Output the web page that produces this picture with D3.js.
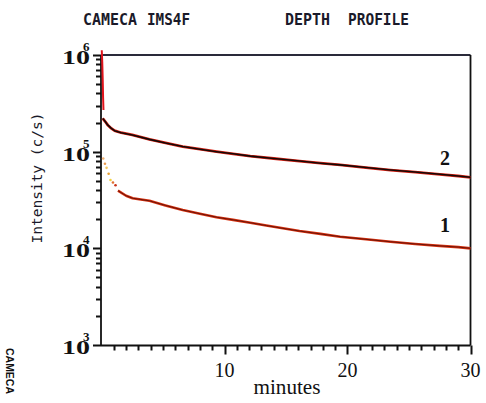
<!DOCTYPE html>
<html>
<head>
<meta charset="utf-8">
<script src="https://cdn.jsdelivr.net/npm/d3@7"></script>
<style>
  html, body { margin: 0; padding: 0; background: #fff; }
  svg { display: block; }
</style>
</head>
<body>
<svg id="chart" width="486" height="403"></svg>
<script>
// ---- data ----
const xTicksMinor = d3.range(1, 31);
const xTicksMajor = [10, 20, 30];
const yDecades = [1e3, 1e4, 1e5, 1e6];
const yExponents = ["3", "4", "5", "6"];

// curve 2 (upper)
const curve2Time   = [0.1, 0.3, 0.5, 0.8, 1.06, 1.6, 2.5, 3.9, 5.2, 6.6, 8.0, 9.35, 10.7, 12.1, 14.0, 16.1, 17.8, 19.4, 21.5, 23.5, 25.5, 27.5, 29.0, 30.0];
const curve2Values = [2.21e5, 2.05e5, 1.89e5, 1.74e5, 1.65e5, 1.57e5, 1.49e5, 1.34e5, 1.23e5, 1.13e5, 1.06e5, 1.0e5, 9.5e4, 9.0e4, 8.5e4, 8.0e4, 7.6e4, 7.3e4, 6.85e4, 6.45e4, 6.15e4, 5.83e4, 5.6e4, 5.43e4];

// curve 1 (lower) - early dotted part
const curve1DotTime   = [0.06, 0.2, 0.33, 0.5, 0.65, 0.85, 1.06];
const curve1DotValues = [8.5e4, 7.5e4, 6.8e4, 5.9e4, 5.1e4, 4.8e4, 4.5e4];
const curve1DotColors = ["#f0b070", "#e89a50", "#f4c860", "#e8a030", "#f2d040", "#e07030", "#c83018"];
// curve 1 (lower) - solid part
const curve1Time   = [1.34, 2.0, 2.53, 3.2, 3.9, 5.2, 6.6, 8.0, 9.35, 10.7, 12.1, 13.4, 14.75, 16.1, 17.8, 19.4, 21.5, 23.5, 25.5, 27.5, 29.0, 30.0];
const curve1Values = [3.95e4, 3.5e4, 3.3e4, 3.2e4, 3.1e4, 2.78e4, 2.49e4, 2.28e4, 2.1e4, 1.97e4, 1.84e4, 1.72e4, 1.61e4, 1.51e4, 1.41e4, 1.32e4, 1.24e4, 1.17e4, 1.11e4, 1.06e4, 1.03e4, 1.0e4];

// initial spike
const spikeTime   = [0.02, 0.06, 0.1, 0.13, 0.16];
const spikeValues = [1.12e6, 8.5e5, 5.5e5, 3.6e5, 2.7e5];

// ---- chart ----
const svg = d3.select("#chart");
const x = d3.scaleLinear().domain([0, 30]).range([101.5, 470.5]);
const y = d3.scaleLog().domain([1e3, 1e6]).range([345, 55]);

const serif = "'Liberation Serif', 'Times New Roman', serif";
const mono = "'DejaVu Sans Mono', monospace";
const axisX0 = 101;
const axisY0 = 345.5;

// title texts
const titles = [
  {t: "CAMECA", x: 83, w: 54},
  {t: "IMS4F", x: 147, w: 43},
  {t: "DEPTH", x: 285, w: 45},
  {t: "PROFILE", x: 348, w: 61}
];
svg.selectAll("text.title").data(titles).enter().append("text")
  .attr("class", "title")
  .attr("x", d => d.x).attr("y", 25)
  .attr("textLength", d => d.w).attr("lengthAdjust", "spacingAndGlyphs")
  .attr("font-family", mono).attr("font-size", 16).attr("font-weight", "bold")
  .attr("fill", "#1a1a2a")
  .text(d => d.t);

svg.append("g").selectAll("text").data(xTicksMajor).enter().append("text")
  .attr("x", d => x(d)).attr("y", 377).attr("text-anchor", "middle")
  .attr("font-family", serif).attr("font-size", 20).attr("fill", "#111")
  .text(d3.format("d"));

// y tick labels 10^n
const yl = svg.append("g");
yDecades.forEach((v, i) => {
  const yy = y(v);
  yl.append("text").attr("x", 62).attr("y", yy + 9)
    .attr("textLength", 28).attr("lengthAdjust", "spacingAndGlyphs")
    .attr("font-family", serif).attr("font-size", 18).attr("font-weight", "bold").attr("fill", "#111")
    .text("10");
  yl.append("text").attr("x", 83).attr("y", yy - 4)
    .attr("font-family", serif).attr("font-size", 13).attr("font-weight", "bold").attr("fill", "#111")
    .text(yExponents[i]);
});

// frame
const frame = svg.append("g").attr("stroke", "#111").attr("fill", "none");
frame.append("line").attr("x1", axisX0).attr("x2", axisX0).attr("y1", y(1e6)).attr("y2", axisY0).attr("stroke-width", 1.8);
frame.append("line").attr("x1", axisX0).attr("x2", x(30)).attr("y1", axisY0).attr("y2", axisY0).attr("stroke-width", 1.8);
frame.append("line").attr("x1", axisX0).attr("x2", x(30)).attr("y1", y(1e6)).attr("y2", y(1e6)).attr("stroke-width", 1.8).attr("stroke", "#2a2a3a");
frame.append("line").attr("x1", x(30)).attr("x2", x(30)).attr("y1", y(1e6)).attr("y2", axisY0).attr("stroke-width", 1.8);

// ticks as small filled rects
const yMinor = [];
yDecades.slice(0, 3).forEach(dec => { for (let k = 2; k <= 9; k++) yMinor.push(dec * k); });
const tickG = svg.append("g").attr("class", "ticks").attr("fill", "#111");
tickG.selectAll("rect.xt").data(xTicksMinor).enter().append("rect").attr("class", "xt")
  .attr("x", d => Math.round(x(d)) - 0.5).attr("width", 2)
  .attr("y", axisY0).attr("height", d => xTicksMajor.includes(d) ? 9 : 5);
tickG.selectAll("rect.ytm").data(yMinor).enter().append("rect").attr("class", "ytm")
  .attr("x", axisX0 - 5).attr("width", 5)
  .attr("y", d => Math.round(y(d)) - 0.5).attr("height", 2);
tickG.selectAll("rect.ytM").data(yDecades).enter().append("rect").attr("class", "ytM")
  .attr("x", axisX0 - 8).attr("width", 8)
  .attr("y", d => Math.round(y(d)) - 0.5).attr("height", 2);

// curves
const lineGen = d3.line().x(d => x(d[0])).y(d => y(d[1]));
const c2 = d3.zip(curve2Time, curve2Values);
const c1 = d3.zip(curve1Time, curve1Values);
const sp = d3.zip(spikeTime, spikeValues);

svg.append("path").datum(sp).attr("d", lineGen).attr("fill", "none")
  .attr("stroke", "#e0141c").attr("stroke-width", 2);

svg.append("path").datum(c2).attr("d", lineGen).attr("fill", "none")
  .attr("stroke", "#d81e10").attr("stroke-width", 2.8).attr("stroke-linejoin", "round");
svg.append("path").datum(c2).attr("d", lineGen).attr("fill", "none")
  .attr("stroke", "#120a08").attr("stroke-width", 1.6).attr("stroke-linejoin", "round");

svg.append("path").datum(c1).attr("d", lineGen).attr("fill", "none")
  .attr("stroke", "#d8300e").attr("stroke-width", 2.6).attr("stroke-linejoin", "round");
svg.append("path").datum(c1).attr("d", lineGen).attr("fill", "none")
  .attr("stroke", "#5a1008").attr("stroke-width", 0.9).attr("stroke-linejoin", "round");

svg.selectAll("circle.dot").data(d3.zip(curve1DotTime, curve1DotValues, curve1DotColors)).enter()
  .append("circle").attr("class", "dot")
  .attr("cx", d => x(d[0]) + 1).attr("cy", d => y(d[1]))
  .attr("r", 1.3).attr("fill", d => d[2]);

// curve labels
svg.append("text").attr("x", 445).attr("y", 165).attr("text-anchor", "middle")
  .attr("font-family", serif).attr("font-size", 20).attr("font-weight", "bold").attr("fill", "#111").text("2");
svg.append("text").attr("x", 445).attr("y", 232).attr("text-anchor", "middle")
  .attr("font-family", serif).attr("font-size", 20).attr("font-weight", "bold").attr("fill", "#111").text("1");

// axis titles
svg.append("text").attr("x", 287).attr("y", 394).attr("text-anchor", "middle")
  .attr("textLength", 67).attr("lengthAdjust", "spacingAndGlyphs")
  .attr("font-family", serif).attr("font-size", 21).attr("fill", "#111").text("minutes");

svg.append("text").attr("transform", "translate(42,178) rotate(-90)").attr("text-anchor", "middle")
  .attr("textLength", 131).attr("lengthAdjust", "spacingAndGlyphs")
  .attr("font-family", mono).attr("font-size", 14).attr("fill", "#1a1a2a").text("Intensity (c/s)");

// CAMECA logo (vertical)
svg.append("text").attr("transform", "translate(6,348) rotate(90)")
  .attr("textLength", 46).attr("lengthAdjust", "spacingAndGlyphs")
  .attr("font-family", "'Liberation Sans', Arial, sans-serif").attr("font-size", 11).attr("font-weight", "bold")
  .attr("fill", "#111").text("CAMECA");
</script>
</body>
</html>
